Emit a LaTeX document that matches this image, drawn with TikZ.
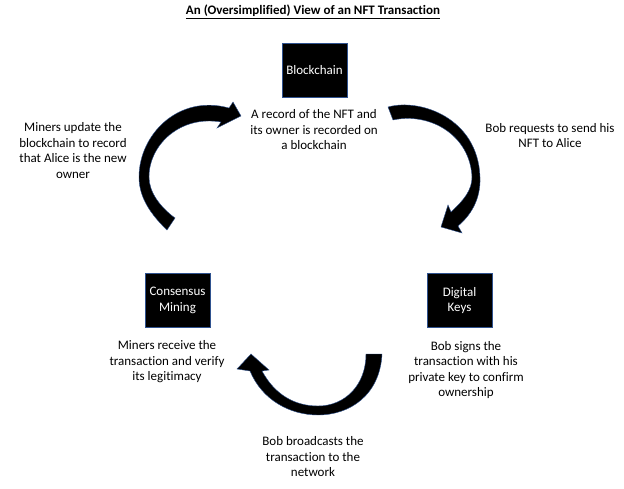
\documentclass[tikz,border=0pt]{standalone}
\usepackage{fontspec}
\setmainfont{Carlito}[Ligatures={NoCommon,NoContextual}]
\definecolor{edgeblue}{RGB}{47,82,143}
\begin{document}
\begin{tikzpicture}[x=1pt,y=1pt,
  keybox/.style={draw=edgeblue,line width=0.6pt,fill=black,text=white,align=center,
    minimum width=65pt,minimum height=54pt,inner sep=2pt,font=\fontsize{13}{15.5}\selectfont},
  note/.style={align=center,inner sep=0pt,font=\fontsize{13}{15.5}\selectfont},
  blockarrow/.style={fill=black,draw=edgeblue,line width=0.4pt,line join=miter}]
\useasboundingbox (0,0) rectangle (624,-489);
\node[font=\fontsize{13}{15.5}\selectfont\bfseries] (title) at (313,-12) {\underline{An (Oversimplified) View of an NFT Transaction}};
% the three stages
\node[keybox] (chain) at (314.5,-70) {Blockchain};
\node[keybox] (mining) at (177.5,-300.5) {Consensus\\Mining};
\node[keybox] (keys) at (459.5,-300.5) {Digital\\Keys};
% what happens at each step
\node[note] (record) at (314,-130) {A record of the NFT and\\its owner is recorded on\\a blockchain};
\node[note] (request) at (550,-135.5) {Bob requests to send his\\NFT to Alice};
\node[note] (sign) at (466,-370) {Bob signs the\\transaction with his\\private key to confirm\\ownership};
\node[note] (broadcast) at (313,-457) {Bob broadcasts the\\transaction to the\\network};
\node[note] (receive) at (167,-362) {Miners receive the\\transaction and verify\\its legitimacy};
\node[note] (update) at (73,-150.5) {Miners update the\\blockchain to record\\that Alice is the new\\owner};
% curved block arrows
\draw[blockarrow] (388,-107) .. controls (420,-98) and (478,-118) .. (480,-177)
  .. controls (481,-200) and (470,-216) .. (458,-226) -- (462,-233) -- (441,-227) -- (448,-205) -- (451,-212)
  .. controls (464,-200) and (472,-190) .. (472,-177)
  .. controls (470,-135) and (430,-112) .. (393,-120) -- cycle;
\draw[blockarrow] (382,-354) .. controls (380,-395) and (350,-415) .. (318,-415)
  .. controls (290,-415) and (262,-400) .. (250,-371) -- (237,-369) -- (251,-354) -- (269,-370) -- (262,-371)
  .. controls (275,-395) and (295,-406) .. (318,-406)
  .. controls (345,-406) and (366,-385) .. (366,-354) -- cycle;
\draw[blockarrow] (167,-230) .. controls (146,-210) and (139,-193) .. (139,-177)
  .. controls (139,-135) and (178,-94) .. (229,-108) -- (233,-102) -- (241,-116) -- (217,-128) -- (221,-122)
  .. controls (180,-115) and (149,-145) .. (149,-177)
  .. controls (149,-192) and (160,-207) .. (175,-218) -- cycle;
\end{tikzpicture}
\end{document}
